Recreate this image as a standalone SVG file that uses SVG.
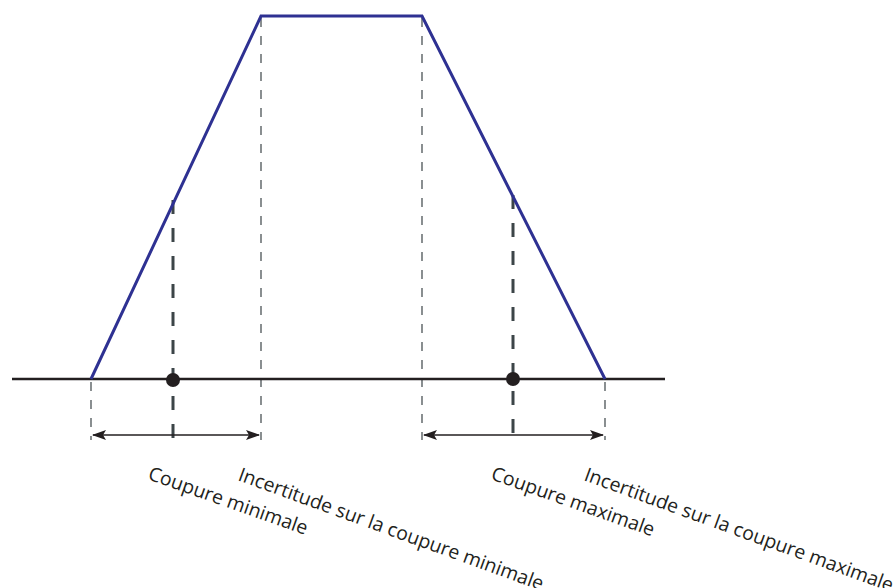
<svg xmlns="http://www.w3.org/2000/svg" width="894" height="588" viewBox="0 0 894 588">
<style>
.guide{stroke:#3c4548;stroke-width:1.2;stroke-dasharray:9 9;fill:none}
.cut{stroke:#3c4548;stroke-width:3;stroke-dasharray:14 14;fill:none}
.arrow{stroke:#231f20;stroke-width:1.5;fill:none;marker-start:url(#ah);marker-end:url(#ah)}
.lbl{font-family:"Open Sans","Liberation Sans",sans-serif;font-size:19.4px;fill:#231f20}
</style>
<defs>
<marker id="ah" viewBox="0 0 14 10" refX="13" refY="5" markerWidth="14" markerHeight="10" markerUnits="userSpaceOnUse" orient="auto-start-reverse">
<path d="M0,0 L14,5 L0,10 L3,5 Z" fill="#231f20"/>
</marker>
</defs>
<g id="connectors">
<line class="guide" x1="91" y1="382" x2="91" y2="440"/>
<line class="guide" x1="261" y1="18" x2="261" y2="440"/>
<line class="guide" x1="422" y1="18" x2="422" y2="440"/>
<line class="guide" x1="605" y1="382" x2="605" y2="440"/>
<line class="cut" x1="173" y1="200" x2="173" y2="448"/>
<line class="cut" x1="513" y1="195" x2="513" y2="443"/>
<line class="arrow" x1="93" y1="435" x2="259" y2="435"/>
<line class="arrow" x1="424" y1="435" x2="603" y2="435"/>
</g>
<g id="axis">
<line x1="12" y1="379" x2="665" y2="379" stroke="#231f20" stroke-width="2.5"/>
</g>
<g id="trapezoid">
<polyline points="91,379 261,16 422,16 605,379" fill="none" stroke="#2e3192" stroke-width="3" stroke-linejoin="miter"/>
</g>
<g id="cut-min">
<circle cx="173" cy="380" r="7" fill="#231f20"/>
</g>
<g id="cut-max">
<circle cx="513" cy="379" r="7" fill="#231f20"/>
</g>
<g id="labels">
<text class="lbl" transform="translate(147,479) rotate(19.5)">Coupure minimale</text>
<text class="lbl" transform="translate(237,480) rotate(20)">Incertitude sur la coupure minimale</text>
<text class="lbl" transform="translate(490,479) rotate(19.5)">Coupure maximale</text>
<text class="lbl" transform="translate(583,480) rotate(20)">Incertitude sur la coupure maximale</text>
</g>
</svg>
